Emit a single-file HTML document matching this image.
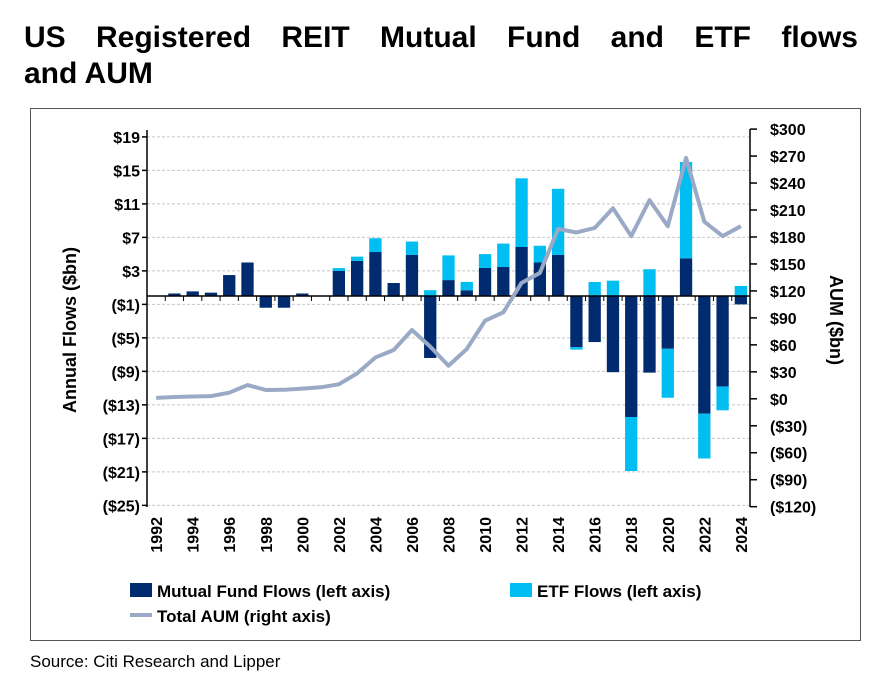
<!DOCTYPE html>
<html><head><meta charset="utf-8"><style>
body{margin:0;background:#fff;width:892px;height:696px;overflow:hidden;font-family:"Liberation Sans",Arial,sans-serif}
#title{position:absolute;left:24px;top:20px;width:834px;font-weight:bold;font-size:30px;line-height:36px;color:#000}
#title .l1{text-align:justify;text-align-last:justify}
#box{position:absolute;left:30px;top:108px;width:831px;height:533px;border:1px solid #555;box-sizing:border-box}
#src{position:absolute;left:30px;top:652px;font-size:17px;color:#000}
svg{position:absolute;left:0;top:0}
</style></head><body>
<div id="title"><div class="l1">US Registered REIT Mutual Fund and ETF flows</div><div>and AUM</div></div>
<div id="box"></div>
<div id="src">Source: Citi Research and Lipper</div>
<svg id="chart" width="892" height="696"></svg>
<script>
const years=[];for(let y=1992;y<=2024;y++)years.push(y);
const mfFlows=[0,0.3,0.55,0.4,2.5,4.0,-1.4,-1.4,0.3,0,3.0,4.2,5.25,1.55,4.9,-7.4,1.9,0.68,3.35,3.46,5.85,4.0,4.9,-6.1,-5.5,-9.1,-14.45,-9.15,-6.3,4.5,-14.05,-10.8,-1.0];
const etfFlows=[0,0,0,0,0,0,0,0,0,0,0.33,0.5,1.65,-0.1,1.6,0.7,2.95,1.0,1.65,2.8,8.2,2.0,7.9,-0.3,1.67,1.83,-6.45,3.2,-5.85,11.5,-5.35,-2.85,1.2];
const aum=[1,2,2.5,3,6.8,15.3,9.8,10,11.3,12.8,16.1,28.3,46,54.3,76.5,58,36.8,55.4,86.9,96.2,129,140,189,185,190,212,181,221,192,268,197,181,192];
const leftTicks=[19,15,11,7,3,-1,-5,-9,-13,-17,-21,-25];
const rightTicks=[300,270,240,210,180,150,120,90,60,30,0,-30,-60,-90,-120];

const svg=document.getElementById('chart');const NS='http://www.w3.org/2000/svg';
function el(t,a,p){const e=document.createElementNS(NS,t);for(const k in a)e.setAttribute(k,a[k]);(p||svg).appendChild(e);return e;}
const X0=147,X1=750,step=(X1-X0)/years.length;
const xc=i=>X0+step*(i+0.5);
const yL=v=>296-v*8.375;
const yR=v=>398.8-v*0.899;
const fmtL=v=>v<0?'($'+(-v)+')':'$'+v;
leftTicks.forEach(t=>{
  const g=el('line',{x1:X0,x2:X1,y1:yL(t),y2:yL(t),stroke:'#c8c8c8','stroke-dasharray':'3,2','stroke-width':1});
  
  el('line',{x1:X0-5,x2:X0,y1:yL(t),y2:yL(t),stroke:'#000','stroke-width':1.5});
  const tx=el('text',{x:X0-7,y:yL(t)+6,'text-anchor':'end','font-size':16,'font-weight':'bold'});tx.textContent=fmtL(t);
  
});
rightTicks.forEach(t=>{
  el('line',{x1:X1,x2:X1+7,y1:yR(t),y2:yR(t),stroke:'#000','stroke-width':1.5});
  const tx=el('text',{x:X1+20,y:yR(t)+6,'font-size':16,'font-weight':'bold'});tx.textContent=t<0?'($'+(-t)+')':'$'+t;
  
});
const bw=12.3;
years.forEach((yr,i)=>{
  const m=mfFlows[i],e=etfFlows[i];
  const r1=el('rect',{x:xc(i)-bw/2,y:Math.min(yL(0),yL(m)),width:bw,height:Math.abs(yL(m)-yL(0)),fill:'#002b6e'});
  
  let base=(e>=0)?Math.max(m,0):Math.min(m,0);
  if(e!==0){const r2=el('rect',{x:xc(i)-bw/2,y:Math.min(yL(base),yL(base+e)),width:bw,height:Math.abs(yL(base+e)-yL(base)),fill:'#00bdf2'});
  }
});
el('line',{x1:X0,x2:X0,y1:130,y2:507,stroke:'#000','stroke-width':1.5});
el('line',{x1:X1,x2:X1,y1:129,y2:507,stroke:'#000','stroke-width':1.5});
el('line',{x1:X0,x2:X1,y1:yL(0),y2:yL(0),stroke:'#000','stroke-width':1.5});
years.forEach((yr,i)=>{
  el('line',{x1:X0+step*i,x2:X0+step*i,y1:yL(0),y2:yL(0)+5,stroke:'#000','stroke-width':1});
  if(i%2===0){const tx=el('text',{x:0,y:0,'font-size':16,'font-weight':'bold','text-anchor':'end',transform:`translate(${xc(i)+6},517) rotate(-90)`});tx.textContent=yr;
  }
});
const pl=el('polyline',{points:aum.map((v,i)=>xc(i)+','+yR(v)).join(' '),fill:'none',stroke:'#9aaac6','stroke-width':4,'stroke-linejoin':'round'});

const lt=el('text',{x:0,y:0,'font-size':18,'font-weight':'bold','text-anchor':'middle',transform:'translate(76,330) rotate(-90)'});lt.textContent='Annual Flows ($bn)';

const rt=el('text',{x:0,y:0,'font-size':18,'font-weight':'bold','text-anchor':'middle',transform:'translate(830,320) rotate(90)'});rt.textContent='AUM ($bn)';

const l1=el('rect',{x:130,y:583,width:22,height:14,fill:'#002b6e'});
const t1=el('text',{x:157,y:597,'font-size':17,'font-weight':'bold'});t1.textContent='Mutual Fund Flows (left axis)';
const l2=el('rect',{x:510,y:583,width:22,height:14,fill:'#00bdf2'});
const t2=el('text',{x:537,y:597,'font-size':17,'font-weight':'bold'});t2.textContent='ETF Flows (left axis)';
const l3=el('line',{x1:130,x2:152,y1:615,y2:615,stroke:'#9aaac6','stroke-width':4});
const t3=el('text',{x:157,y:622,'font-size':17,'font-weight':'bold'});t3.textContent='Total AUM (right axis)';
</script>
</body></html>
